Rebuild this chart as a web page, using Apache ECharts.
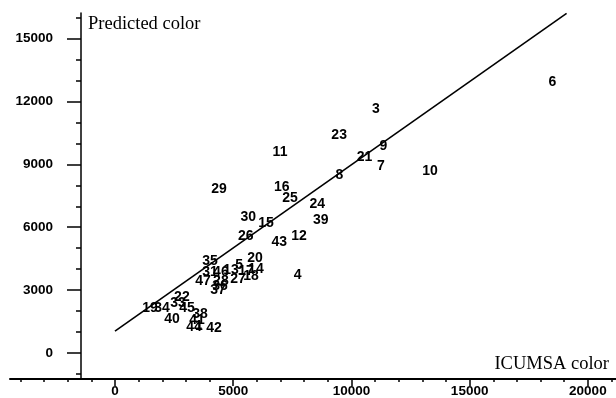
<!DOCTYPE html>
<html>
<head>
<meta charset="utf-8">
<script src="https://cdn.jsdelivr.net/npm/echarts@6/dist/echarts.min.js"></script>
<style>
  html, body { margin: 0; padding: 0; background: #fff; }
  #chart { width: 616px; height: 398px; }
</style>
</head>
<body>
<div id="chart"></div>
<script>
// sample numbers, ICUMSA color (x) and predicted color (y)
const sampleIds = ['3', '23', '9', '21', '7', '10', '11', '8', '29', '16',
  '25', '24', '30', '15', '39', '26', '43', '12', '6', '4',
  '35', '20', '14', '31', '46', '13', '5', '17', '27', '18',
  '47', '28', '37', '36', '19', '34', '22', '33', '45', '40',
  '38', '41', '44', '1', '42'];
const icumsa = [11030, 9480, 11350, 10550, 11250, 13320, 6980, 9490, 4400, 7050,
  7400, 8560, 5640, 6390, 8700, 5530, 6950, 7780, 18500, 7730,
  4020, 5920, 5960, 4020, 4480, 4910, 5250, 5540, 5200, 5750,
  3720, 4480, 4360, 4440, 1480, 1990, 2830, 2670, 3050, 2410,
  3600, 3470, 3340, 3550, 4190];
const predicted = [11620, 10400, 9890, 9340, 8910, 8680, 9580, 8470, 7840, 7890,
  7370, 7090, 6500, 6190, 6340, 5560, 5280, 5560, 12910, 3700,
  4390, 4540, 4020, 3870, 3870, 3970, 4200, 3900, 3500, 3680,
  3450, 3450, 2980, 3170, 2130, 2130, 2650, 2360, 2130, 1620,
  1860, 1560, 1230, 1280, 1180];

// fitted line end points
const fitX = [0, 19100];
const fitY = [1040, 16200];

const xTicks = [0, 5000, 10000, 15000, 20000];
const xMinor = [-4000, -3000, -2000, -1000, 0, 1000, 2000, 3000, 4000, 5000, 6000,
  7000, 8000, 9000, 10000, 11000, 12000, 13000, 14000, 15000, 16000, 17000,
  18000, 19000, 20000, 21000];
const yTicks = [0, 3000, 6000, 9000, 12000, 15000];
const yMinor = [-1000, 0, 1000, 2000, 3000, 4000, 5000, 6000, 7000, 8000, 9000,
  10000, 11000, 12000, 13000, 14000, 15000, 16000];

const chart = echarts.init(document.getElementById('chart'));

const points = sampleIds.map((id, i) => ({ name: id, value: [icumsa[i], predicted[i]] }));
const fitLine = fitX.map((x, i) => [x, fitY[i]]);

const sans = 'Liberation Sans';
const serif = 'Liberation Serif';
const xRange = { min: -4440, max: 21190 };
const yRange = { min: -1240, max: 16220 };
const plain = (v) => String(v);

chart.setOption({
  animation: false,
  backgroundColor: '#fff',
  title: [
    {
      text: 'Predicted color', left: 88, top: 15, padding: 0,
      textStyle: { fontFamily: serif, fontSize: 18.5, fontWeight: 'normal', color: '#000' }
    },
    {
      text: 'ICUMSA color', right: 7, top: 355, padding: 0,
      textStyle: { fontFamily: serif, fontSize: 18.5, fontWeight: 'normal', color: '#000' }
    }
  ],
  grid: { left: 10, right: 0, top: 13, bottom: 16, containLabel: false },
  xAxis: [
    {
      type: 'value', ...xRange,
      axisLine: { onZero: false, lineStyle: { color: '#000', width: 2 } },
      axisTick: { customValues: xTicks, length: 7, lineStyle: { color: '#000', width: 1.5 } },
      axisLabel: { customValues: xTicks, formatter: plain, margin: 5, color: '#000', fontFamily: sans, fontSize: 13.5, fontWeight: 'bold' },
      splitLine: { show: false }
    },
    {
      type: 'value', ...xRange, position: 'bottom',
      axisLine: { show: false, onZero: false },
      axisTick: { customValues: xMinor, length: 3, lineStyle: { color: '#000', width: 1.5 } },
      axisLabel: { show: false },
      splitLine: { show: false }
    }
  ],
  yAxis: [
    {
      type: 'value', ...yRange, position: 'left', offset: -71,
      axisLine: { show: true, onZero: false, lineStyle: { color: '#000', width: 1.5 } },
      axisTick: { show: true, customValues: yTicks, length: 14, lineStyle: { color: '#000', width: 1.5 } },
      axisLabel: { customValues: yTicks, formatter: plain, margin: 28, color: '#000', fontFamily: sans, fontSize: 13.5, fontWeight: 'bold' },
      splitLine: { show: false }
    },
    {
      type: 'value', ...yRange, position: 'left', offset: -71,
      axisLine: { show: false, onZero: false },
      axisTick: { show: true, customValues: yMinor, length: 5, lineStyle: { color: '#000', width: 1.5 } },
      axisLabel: { show: false },
      splitLine: { show: false }
    }
  ],
  series: [
    {
      type: 'line',
      data: fitLine,
      showSymbol: false,
      silent: true,
      lineStyle: { color: '#000', width: 1.6 }
    },
    {
      type: 'scatter',
      data: points,
      symbolSize: 0,
      itemStyle: { color: '#000', opacity: 1 },
      label: {
        show: true,
        position: 'inside',
        formatter: '{b}',
        color: '#000',
        fontFamily: sans,
        fontSize: 14,
        fontWeight: 'bold'
      }
    }
  ]
});
</script>
</body>
</html>
